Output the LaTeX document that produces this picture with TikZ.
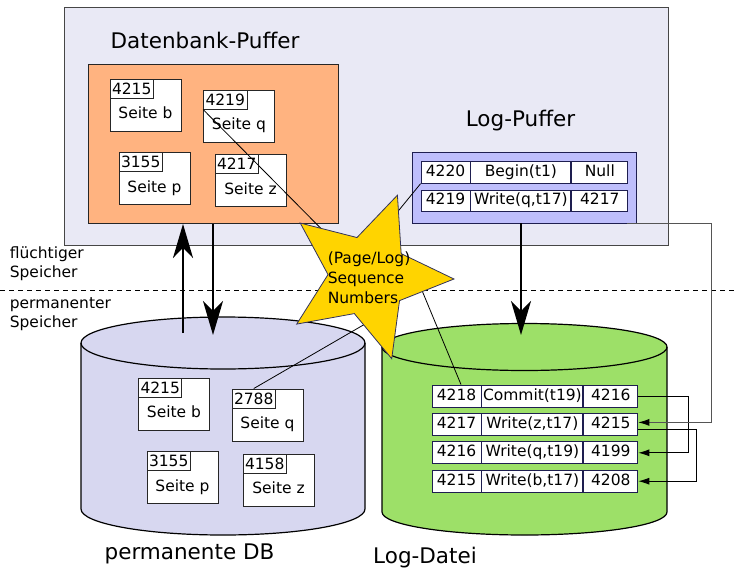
\documentclass[tikz,border=0pt]{standalone}
\usepackage{fontspec}
\setmainfont{DejaVu Sans}
\usepackage{xcolor}
\usepackage{tikz}
\usetikzlibrary{arrows.meta, positioning, shapes.geometric}

\definecolor{ramfill}{RGB}{233,233,245}
\definecolor{ramline}{RGB}{70,70,70}
\definecolor{buffill}{RGB}{255,179,128}
\definecolor{logfill}{RGB}{190,190,252}
\definecolor{dbfill}{RGB}{215,215,240}
\definecolor{filefill}{RGB}{157,224,104}
\definecolor{staryellow}{RGB}{255,212,0}
\definecolor{logline}{RGB}{30,30,80}
\definecolor{stardark}{RGB}{50,50,90}
\definecolor{linkgray}{RGB}{85,85,85}

\begin{document}
\begin{tikzpicture}[
  x=1pt, y=-1pt, line width=0.9pt,
  node distance=5.5pt and 0pt,
  small/.style={font=\fontsize{15.5}{19}\selectfont},
  big/.style={font=\fontsize{21.5}{26}\selectfont},
  pagebox/.style={draw=black!85, fill=white, minimum width=71pt, minimum height=52pt,
    text height=27pt, text depth=0pt, inner sep=0pt, small},
  tagbox/.style={draw=black!85, fill=white, anchor=north west, minimum height=19pt,
    inner sep=2pt, text height=11.5pt, text depth=0pt, small},
  cell/.style={draw=logline, fill=white, minimum height=22pt, inner sep=0pt,
    text height=11.5pt, text depth=3.5pt, small},
  arrow/.style={-{Stealth[length=34pt, width=20pt, inset=10pt]}, line width=2pt},
  link/.style={-{Latex[length=11pt, width=7pt, color=black]}, line width=0.9pt}
]
\useasboundingbox (0,0) rectangle (735,572);

% Fluechtiger Speicher
\node[draw=ramline, fill=ramfill, minimum width=604pt, minimum height=238pt] (ram) at (366,126) {};
\node[draw=black!85, fill=buffill, minimum width=250pt, minimum height=159pt] (dbuf) at (213,144) {};
\node[big, anchor=base] (dbufl) at (205,49) {Datenbank-Puffer};
\node[big, anchor=base] (lbufl) at (520.5,127) {Log-Puffer};

% Seiten im Puffer
\node[pagebox] (bb) at (145.5,105) {Seite b};
\node[tagbox] (bbt) at (bb.north west) {4215};
\node[pagebox] (bq) at (239,116) {Seite q};
\node[tagbox] (bqt) at (bq.north west) {4219};
\node[pagebox] (bp) at (154.5,178.5) {Seite p};
\node[tagbox] (bpt) at (bp.north west) {3155};
\node[pagebox] (bz) at (250.5,180.5) {Seite z};
\node[tagbox] (bzt) at (bz.north west) {4217};

% Log-Puffer
\node[draw=logline, fill=logfill, minimum width=224pt, minimum height=71pt] (lbuf) at (524,187.5) {};
\node[cell, minimum width=49pt, minimum height=21.5pt] (b1a) at (445.5,172.5) {4220};
\node[cell, minimum width=100pt, minimum height=21.5pt, right=of b1a] (b1b) {Begin(t1)};
\node[cell, minimum width=56pt, minimum height=21.5pt, right=of b1b] (b1c) {Null};
\node[cell, minimum width=49pt, minimum height=21.5pt, below=6pt of b1a] (b2a) {4219};
\node[cell, minimum width=100pt, minimum height=21.5pt, right=of b2a] (b2b) {Write(q,t17)};
\node[cell, minimum width=56pt, minimum height=21.5pt, right=of b2b] (b2c) {4217};

% Grenze
\draw[line width=0.8pt, dash pattern=on 5pt off 4pt] (0,290) -- (735,290);
\node[small, align=left, anchor=west] (vol) at (6,264) {flüchtiger\\Speicher};
\node[small, align=left, anchor=west] (perm) at (6,314.5) {permanenter\\Speicher};

% Zylinder
\fill[dbfill] (81,343) -- (81,509) arc[start angle=180, end angle=0, x radius=142, y radius=26] -- (365,343) -- cycle;
\fill[dbfill] (223,343) ellipse[x radius=142, y radius=26];
\draw[line width=1.2pt] (223,343) ellipse[x radius=142, y radius=26];
\draw[line width=1.2pt] (81,343) -- (81,509) arc[start angle=180, end angle=0, x radius=142, y radius=26] -- (365,343);
\fill[filefill] (382,347) -- (382,512) arc[start angle=180, end angle=0, x radius=142.5, y radius=23] -- (667,347) -- cycle;
\fill[filefill] (524.5,347) ellipse[x radius=142.5, y radius=23.5];
\draw[line width=1.2pt] (524.5,347) ellipse[x radius=142.5, y radius=23.5];
\draw[line width=1.2pt] (382,347) -- (382,512) arc[start angle=180, end angle=0, x radius=142.5, y radius=23] -- (667,347);
\node[big, anchor=base] (dbl) at (189.5,559) {permanente DB};
\node[big, anchor=base] (filel) at (425,563) {Log-Datei};

% Seiten in der DB
\node[pagebox] (db) at (174,404) {Seite b};
\node[tagbox] (dbt) at (db.north west) {4215};
\node[pagebox] (dq) at (267.5,415) {Seite q};
\node[tagbox] (dqt) at (dq.north west) {2788};
\node[pagebox] (dp) at (182.5,477.5) {Seite p};
\node[tagbox] (dpt) at (dp.north west) {3155};
\node[pagebox] (dz) at (278.5,480) {Seite z};
\node[tagbox] (dzt) at (dz.north west) {4158};

% Log-Datei
\node[cell, minimum width=49pt] (f1a) at (456.5,396) {4218};
\node[cell, minimum width=101pt, right=of f1a] (f1b) {Commit(t19)};
\node[cell, minimum width=54pt, right=of f1b] (f1c) {4216};
\node[cell, minimum width=49pt, below=of f1a] (f2a) {4217};
\node[cell, minimum width=101pt, right=of f2a] (f2b) {Write(z,t17)};
\node[cell, minimum width=54pt, right=of f2b] (f2c) {4215};
\node[cell, minimum width=49pt, below=of f2a] (f3a) {4216};
\node[cell, minimum width=101pt, right=of f3a] (f3b) {Write(q,t19)};
\node[cell, minimum width=54pt, right=of f3b] (f3c) {4199};
\node[cell, minimum width=49pt, below=of f3a] (f4a) {4215};
\node[cell, minimum width=101pt, right=of f4a] (f4b) {Write(b,t17)};
\node[cell, minimum width=54pt, right=of f4b] (f4c) {4208};

% Pfeile
\coordinate (dbin) at (183,333);
\coordinate (dbout) at (213,335);
\coordinate (login) at (521,335);
\draw[arrow] (dbin) -- (dbin |- dbuf.south);
\draw[arrow] (dbuf.south -| dbout) -- (dbout);
\draw[arrow] (lbuf.south -| login) -- (login);

\draw[link] (f1c.east) -- ++(50,0) |- (f3c.east);
\draw[link] ([yshift=-5pt]f2c.east) -- ++(58,0) |- (f4c.east);
\draw[link, draw=linkgray] ([xshift=-9pt]lbuf.south east) -- ++(84,0) |- ([yshift=2pt]f2c.east);

% Sequence Numbers
\coordinate (sn) at (368,276);
\coordinate (sl2) at (386,226);
\coordinate (sl3) at (372,320);
\coordinate (sl4) at (416,276);
\draw[line width=0.8pt] (bqt.south west) -- (sn);
\draw[line width=0.8pt] (b1a.south west) -- (sl2);
\draw[line width=0.8pt] (dqt.north) -- (sl3);
\draw[line width=0.8pt] ([xshift=4.5pt]f1a.north) -- (sl4);
\node[star, star points=5, star point ratio=2.15, minimum size=172pt, inner sep=0pt,
  shape border rotate=-20, fill=staryellow, draw=stardark, line width=0.8pt] (star) at (sn) {};
\node[align=left, anchor=west, font=\fontsize{15.5}{20}\selectfont] (snl) at (324,278) {(Page/Log)\\Sequence\\Numbers};
\end{tikzpicture}
\end{document}
